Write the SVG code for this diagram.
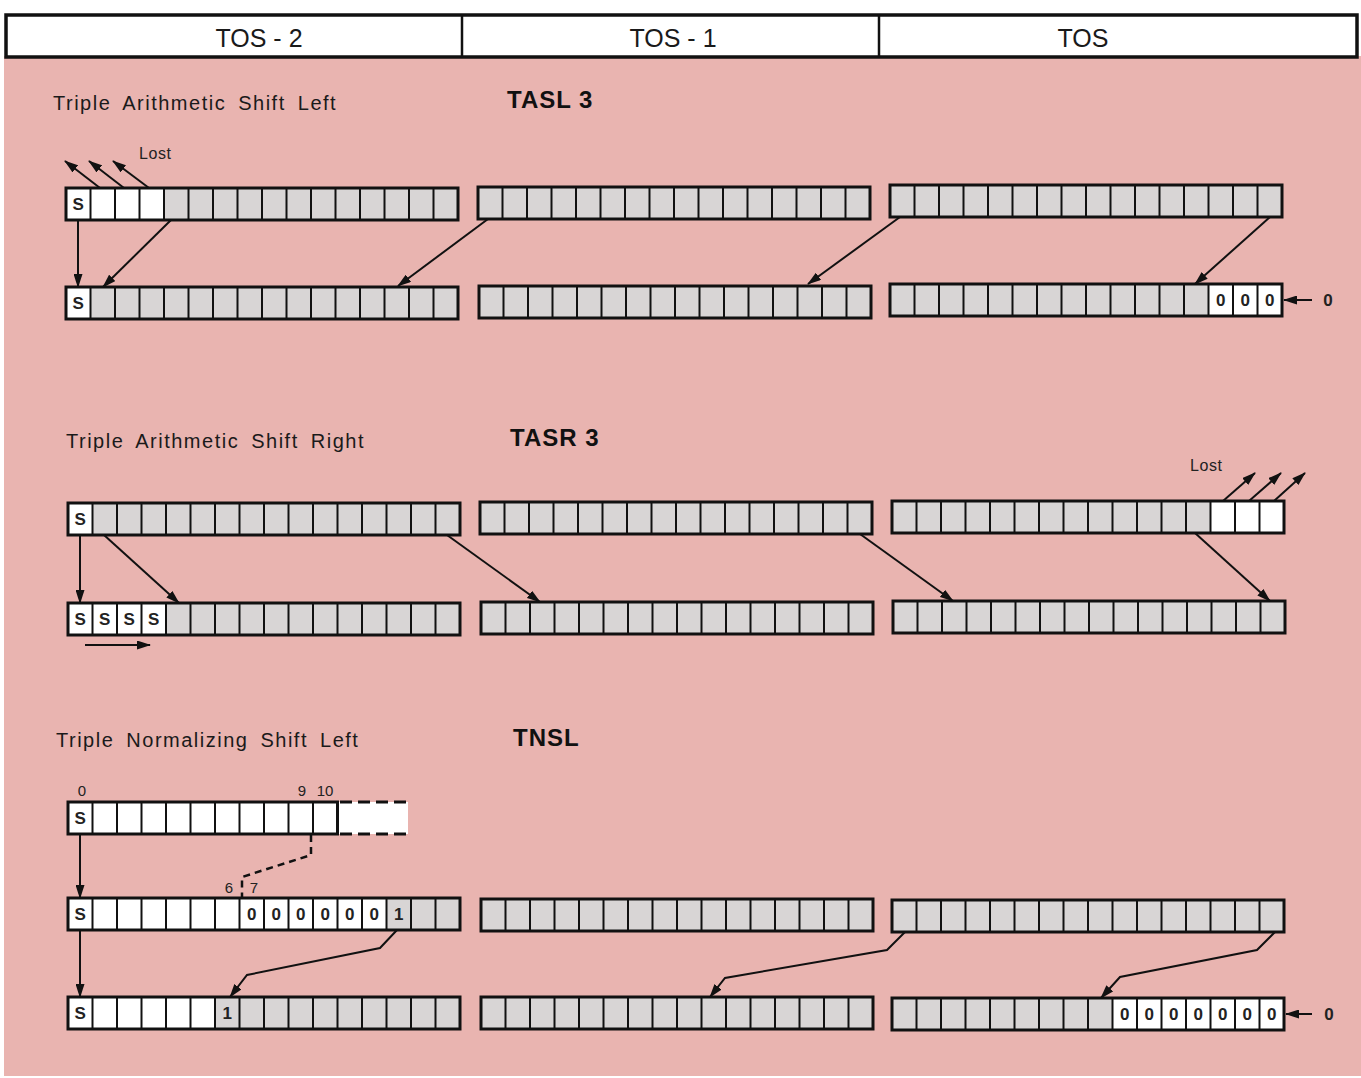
<svg xmlns="http://www.w3.org/2000/svg" xmlns:xlink="http://www.w3.org/1999/xlink" width="1361" height="1078" viewBox="0 0 1361 1078">
<style>
.bg{fill:#e9b4b0}
.gray{fill:#d8d5d5}
.white{fill:#ffffff}
.frame{fill:none;stroke:#111;stroke-width:3}
.div line{stroke:#111;stroke-width:2}
.cl{font-family:"Liberation Sans",Arial,sans-serif;font-weight:bold;font-size:17px;fill:#222;text-anchor:middle}
.title{font-family:"Liberation Sans",Arial,sans-serif;font-size:20px;fill:#1a1a1a;letter-spacing:1.5px;word-spacing:5px}
.op{font-family:"Liberation Sans",Arial,sans-serif;font-weight:bold;font-size:24px;fill:#111;letter-spacing:1px}
.hdr{font-family:"Liberation Sans",Arial,sans-serif;font-size:25px;fill:#1a1a1a;text-anchor:middle}
.small{font-family:"Liberation Sans",Arial,sans-serif;font-size:16px;fill:#222;letter-spacing:0.6px}
.num{font-family:"Liberation Sans",Arial,sans-serif;font-size:15px;fill:#222;text-anchor:middle}
.conn path{fill:none;stroke:#111;stroke-width:2}
.conn .arr{marker-end:url(#ah)}
.conn .dash{stroke-dasharray:7 5;stroke-width:2.5}
</style>
<defs>
<marker id="ah" viewBox="0 0 14 9" refX="13" refY="4.5" markerWidth="14" markerHeight="9" orient="auto" markerUnits="userSpaceOnUse">
<path d="M0,0 L14,4.5 L0,9 z" fill="#111"/>
</marker>
<g id="div16" class="div">
<line x1="24.5" y1="0" x2="24.5" y2="32"/><line x1="49" y1="0" x2="49" y2="32"/><line x1="73.5" y1="0" x2="73.5" y2="32"/><line x1="98" y1="0" x2="98" y2="32"/><line x1="122.5" y1="0" x2="122.5" y2="32"/><line x1="147" y1="0" x2="147" y2="32"/><line x1="171.5" y1="0" x2="171.5" y2="32"/><line x1="196" y1="0" x2="196" y2="32"/><line x1="220.5" y1="0" x2="220.5" y2="32"/><line x1="245" y1="0" x2="245" y2="32"/><line x1="269.5" y1="0" x2="269.5" y2="32"/><line x1="294" y1="0" x2="294" y2="32"/><line x1="318.5" y1="0" x2="318.5" y2="32"/><line x1="343" y1="0" x2="343" y2="32"/><line x1="367.5" y1="0" x2="367.5" y2="32"/>
</g>
<g id="reg">
<rect class="gray" width="392" height="32"/>
</g>
</defs>

<rect x="0" y="0" width="1361" height="1078" fill="#ffffff"/>
<rect class="bg" x="4" y="56" width="1357" height="1020"/>

<g id="header">
<rect x="6" y="15" width="1351" height="42" fill="#fff" stroke="#111" stroke-width="3.5"/>
<line x1="462" y1="15" x2="462" y2="57" stroke="#111" stroke-width="2.5"/>
<line x1="879" y1="15" x2="879" y2="57" stroke="#111" stroke-width="2.5"/>
<text class="hdr" x="259" y="47">TOS - 2</text>
<text class="hdr" x="673" y="47">TOS - 1</text>
<text class="hdr" x="1083" y="47">TOS</text>
</g>

<g id="titles">
<text class="title" x="53" y="110">Triple Arithmetic Shift Left</text>
<text class="op" x="507" y="108">TASL 3</text>
<text class="title" x="66" y="448">Triple Arithmetic Shift Right</text>
<text class="op" x="510" y="446">TASR 3</text>
<text class="title" x="56" y="747">Triple Normalizing Shift Left</text>
<text class="op" x="513" y="746">TNSL</text>
</g>

<!-- TASL -->
<g id="tasl-a1" transform="translate(66,188)">
<use xlink:href="#reg"/><rect class="white" width="98" height="32"/><use xlink:href="#div16"/><rect class="frame" width="392" height="32"/>
<text class="cl" x="12.25" y="22">S</text>
</g>
<g id="tasl-b1" transform="translate(478,187)">
<use xlink:href="#reg"/><use xlink:href="#div16"/><rect class="frame" width="392" height="32"/>
</g>
<g id="tasl-c1" transform="translate(890,185)">
<use xlink:href="#reg"/><use xlink:href="#div16"/><rect class="frame" width="392" height="32"/>
</g>
<g id="tasl-a2" transform="translate(66,287)">
<use xlink:href="#reg"/><rect class="white" width="24.5" height="32"/><use xlink:href="#div16"/><rect class="frame" width="392" height="32"/>
<text class="cl" x="12.25" y="22">S</text>
</g>
<g id="tasl-b2" transform="translate(479,286)">
<use xlink:href="#reg"/><use xlink:href="#div16"/><rect class="frame" width="392" height="32"/>
</g>
<g id="tasl-c2" transform="translate(890,284)">
<use xlink:href="#reg"/><rect class="white" x="318.5" width="73.5" height="32"/><use xlink:href="#div16"/><rect class="frame" width="392" height="32"/>
<text class="cl" x="330.75" y="22">0</text><text class="cl" x="355.25" y="22">0</text><text class="cl" x="379.75" y="22">0</text>
</g>
<text class="small" x="139" y="159">Lost</text>
<text class="cl" x="1328" y="306">0</text>

<!-- TASR -->
<g id="tasr-a1" transform="translate(68,503)">
<use xlink:href="#reg"/><rect class="white" width="24.5" height="32"/><use xlink:href="#div16"/><rect class="frame" width="392" height="32"/>
<text class="cl" x="12.25" y="22">S</text>
</g>
<g id="tasr-b1" transform="translate(480,502)">
<use xlink:href="#reg"/><use xlink:href="#div16"/><rect class="frame" width="392" height="32"/>
</g>
<g id="tasr-c1" transform="translate(892,501)">
<use xlink:href="#reg"/><rect class="white" x="318.5" width="73.5" height="32"/><use xlink:href="#div16"/><rect class="frame" width="392" height="32"/>
</g>
<g id="tasr-a2" transform="translate(68,603)">
<use xlink:href="#reg"/><rect class="white" width="98" height="32"/><use xlink:href="#div16"/><rect class="frame" width="392" height="32"/>
<text class="cl" x="12.25" y="22">S</text><text class="cl" x="36.75" y="22">S</text><text class="cl" x="61.25" y="22">S</text><text class="cl" x="85.75" y="22">S</text>
</g>
<g id="tasr-b2" transform="translate(481,602)">
<use xlink:href="#reg"/><use xlink:href="#div16"/><rect class="frame" width="392" height="32"/>
</g>
<g id="tasr-c2" transform="translate(893,601)">
<use xlink:href="#reg"/><use xlink:href="#div16"/><rect class="frame" width="392" height="32"/>
</g>
<text class="small" x="1190" y="471">Lost</text>

<!-- TNSL -->
<g id="tnsl-a1" transform="translate(68,802)">
<rect class="white" width="340" height="32"/>
<g class="div"><line x1="24.5" y1="0" x2="24.5" y2="32"/><line x1="49" y1="0" x2="49" y2="32"/><line x1="73.5" y1="0" x2="73.5" y2="32"/><line x1="98" y1="0" x2="98" y2="32"/><line x1="122.5" y1="0" x2="122.5" y2="32"/><line x1="147" y1="0" x2="147" y2="32"/><line x1="171.5" y1="0" x2="171.5" y2="32"/><line x1="196" y1="0" x2="196" y2="32"/><line x1="220.5" y1="0" x2="220.5" y2="32"/><line x1="245" y1="0" x2="245" y2="32"/></g>
<rect class="frame" width="269.5" height="32"/>
<path d="M272,0 H340 M272,32 H340" fill="none" stroke="#111" stroke-width="3" stroke-dasharray="12 6"/>
<text class="cl" x="12.25" y="22">S</text>
</g>
<text class="num" x="82" y="796">0</text>
<text class="num" x="302" y="796">9</text>
<text class="num" x="325" y="796">10</text>
<text class="num" x="229" y="893">6</text>
<text class="num" x="254" y="893">7</text>

<g id="tnsl-a2" transform="translate(68,898)">
<use xlink:href="#reg"/><rect class="white" width="318.5" height="32"/><use xlink:href="#div16"/><rect class="frame" width="392" height="32"/>
<text class="cl" x="12.25" y="22">S</text>
<text class="cl" x="183.75" y="22">0</text><text class="cl" x="208.25" y="22">0</text><text class="cl" x="232.75" y="22">0</text><text class="cl" x="257.25" y="22">0</text><text class="cl" x="281.75" y="22">0</text><text class="cl" x="306.25" y="22">0</text>
<text class="cl" x="330.75" y="22">1</text>
</g>
<g id="tnsl-b2" transform="translate(481,899)">
<use xlink:href="#reg"/><use xlink:href="#div16"/><rect class="frame" width="392" height="32"/>
</g>
<g id="tnsl-c2" transform="translate(892,900)">
<use xlink:href="#reg"/><use xlink:href="#div16"/><rect class="frame" width="392" height="32"/>
</g>
<g id="tnsl-a3" transform="translate(68,997)">
<use xlink:href="#reg"/><rect class="white" width="147" height="32"/><use xlink:href="#div16"/><rect class="frame" width="392" height="32"/>
<text class="cl" x="12.25" y="22">S</text>
<text class="cl" x="159.25" y="22">1</text>
</g>
<g id="tnsl-b3" transform="translate(481,997)">
<use xlink:href="#reg"/><use xlink:href="#div16"/><rect class="frame" width="392" height="32"/>
</g>
<g id="tnsl-c3" transform="translate(892,998)">
<use xlink:href="#reg"/><rect class="white" x="220.5" width="171.5" height="32"/><use xlink:href="#div16"/><rect class="frame" width="392" height="32"/>
<text class="cl" x="232.75" y="22">0</text><text class="cl" x="257.25" y="22">0</text><text class="cl" x="281.75" y="22">0</text><text class="cl" x="306.25" y="22">0</text><text class="cl" x="330.75" y="22">0</text><text class="cl" x="355.25" y="22">0</text><text class="cl" x="379.75" y="22">0</text>
</g>
<text class="cl" x="1329" y="1020">0</text>

<g id="connectors" class="conn">
<!-- TASL -->
<path class="arr" d="M78,220 L78,287"/>
<path class="arr" d="M171,220 L103,287"/>
<path class="arr" d="M488,219 L398,286"/>
<path class="arr" d="M900,217 L808,284"/>
<path class="arr" d="M1270,217 L1195,284"/>
<path class="arr" d="M100,188 L65,161"/>
<path class="arr" d="M124,188 L89,161"/>
<path class="arr" d="M149,188 L113,161"/>
<path class="arr" d="M1312,300 L1284,300"/>
<!-- TASR -->
<path class="arr" d="M80,535 L80,603"/>
<path class="arr" d="M104,535 L179,603"/>
<path class="arr" d="M447,535 L540,602"/>
<path class="arr" d="M860,534 L953,601"/>
<path class="arr" d="M1195,533 L1270,601"/>
<path class="arr" d="M1223,501 L1255,473"/>
<path class="arr" d="M1249,501 L1281,473"/>
<path class="arr" d="M1274,501 L1305,473"/>
<path class="arr" d="M85,645 L150,645"/>
<!-- TNSL -->
<path class="arr" d="M80,834 L80,898"/>
<path class="arr" d="M80,930 L80,997"/>
<path class="dash" d="M311,835 L311,855 L242,877 L242,898"/>
<path class="arr" d="M397,930 L380,948 L247,975 L230,997"/>
<path class="arr" d="M905,932 L887,950 L725,978 L710,997"/>
<path class="arr" d="M1275,932 L1257,950 L1120,977 L1101,998"/>
<path class="arr" d="M1312,1014 L1286,1014"/>
</g>
</svg>
